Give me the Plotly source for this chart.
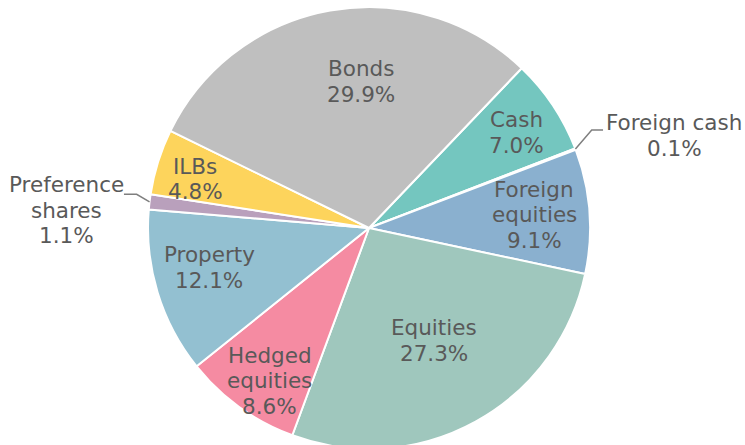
import math
import plotly.graph_objects as go

labels = ["Cash", "Foreign cash", "Foreign equities", "Equities", "Hedged equities",
          "Property", "Preference shares", "ILBs", "Bonds"]
label_lines = [["Cash"], ["Foreign cash"], ["Foreign", "equities"], ["Equities"],
               ["Hedged", "equities"], ["Property"], ["Preference", "shares"],
               ["ILBs"], ["Bonds"]]
values = [7.0, 0.1, 9.1, 27.3, 8.6, 12.1, 1.1, 4.8, 29.9]
colors = ["#74c6bf", "#9a9a9a", "#8ab0cf", "#9fc7bd", "#f58ba2",
          "#93c0d1", "#b9a0bc", "#fdd45c", "#bfbfbf"]
outside = ["Foreign cash", "Preference shares"]

# label placement style (radius fraction, angular nudge in degrees) for inside labels
label_style = {
    "Cash": (0.795, 0.9), "Foreign equities": (0.751, -0.2), "Equities": (0.59, -1.3),
    "Hedged equities": (0.824, -2.8), "Property": (0.745, 3.2), "ILBs": (0.816, -1.7),
    "Bonds": (0.663, 6.8),
}

W, H = 745, 449
ROT = 43.7
TXT = "#595959"
FONT = "Verdana, DejaVu Sans, sans-serif"
FS = 21.5
LS = 25.7  # line spacing in px
YADJ = 0.0

# pie placement
top_px = 7
r_px = (H - top_px) / 2
cx_px, cy_px = 369, top_px + r_px
dom_x = [(cx_px - r_px) / W, (cx_px + r_px) / W]
dom_y = [0, 1 - top_px / H]

fig = go.Figure(go.Pie(
    labels=labels, values=values, textinfo="none",
    sort=False, direction="clockwise", rotation=ROT,
    marker=dict(colors=colors, line=dict(color="white", width=2)),
    domain=dict(x=dom_x, y=dom_y), showlegend=False, hoverinfo="label+percent",
))

annots, shapes = [], []


def add_block(lines, x, yc):
    n = len(lines)
    for i, t in enumerate(lines):
        y = yc + (i - (n - 1) / 2) * LS + YADJ
        annots.append(dict(x=x / W, y=1 - y / H, xref="paper", yref="paper",
                           text=t, showarrow=False, xanchor="center", yanchor="middle",
                           font=dict(family=FONT, size=FS, color=TXT)))


total = sum(values)
cum = 0.0
for lab, lines, v in zip(labels, label_lines, values):
    mid = ROT + (cum + v / 2) / total * 360
    cum += v
    block = lines + [f"{v:.1f}%"]
    if lab in outside:
        a = math.radians(mid)
        x0 = cx_px + r_px * math.sin(a)
        y0 = cy_px - r_px * math.cos(a)
        if math.sin(a) > 0:
            x1, y1 = x0 + 16.3, y0 - 19
            x2 = x1 + 11.3
            add_block(block, x2 + 71, y1 + 5.5)
        else:
            x1, y1 = x0 - 12.9, y0 - 7.5
            x2 = x1 - 12.7
            add_block(block, x2 - 57.3, y1 + 15.8)
        pts = [(x0, y0), (x1, y1), (x2, y1)]
        path = "M " + " L ".join(f"{px / W:.5f},{1 - py / H:.5f}" for px, py in pts)
        shapes.append(dict(type="path", path=path, xref="paper", yref="paper",
                           line=dict(color="#7f7f7f", width=1.5)))
    else:
        rf, da = label_style[lab]
        a = math.radians(mid + da)
        x = cx_px + rf * r_px * math.sin(a)
        y = cy_px - rf * r_px * math.cos(a)
        add_block(block, x, y)

fig.update_layout(
    width=W, height=H, margin=dict(l=0, r=0, t=0, b=0),
    paper_bgcolor="white", plot_bgcolor="white",
    shapes=shapes, annotations=annots,
)
fig.write_html(
    "out.html",
    config={"displayModeBar": False},
    post_script="document.body.style.margin='0';document.body.style.overflow='hidden';"
                "document.documentElement.style.overflow='hidden';",
)
